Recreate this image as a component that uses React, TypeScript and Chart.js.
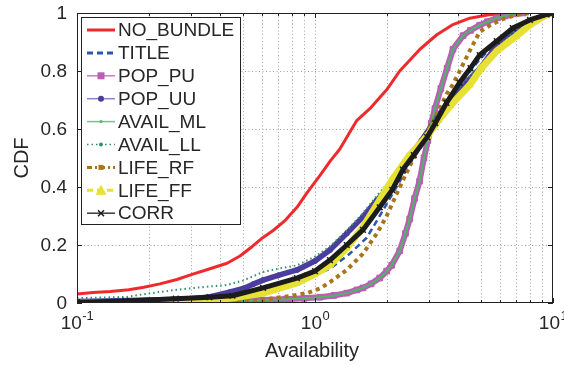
import { useEffect, useRef } from "react";
import { Chart, registerables } from "chart.js";

Chart.register(...registerables);

type Pt = [number, number];

// Empirical CDF curves: [availability, cumulative fraction]
const noBundle: Pt[] = [
  [0.1, 0.031], [0.117, 0.036], [0.138, 0.04], [0.165, 0.046], [0.191, 0.054],
  [0.223, 0.066], [0.263, 0.081], [0.3, 0.097], [0.362, 0.118], [0.427, 0.137],
  [0.484, 0.162], [0.545, 0.195], [0.605, 0.226], [0.667, 0.25], [0.75, 0.285],
  [0.84, 0.33], [0.925, 0.38], [1.05, 0.44], [1.16, 0.49], [1.27, 0.53],
  [1.38, 0.58], [1.5, 0.63], [1.7, 0.67], [2.0, 0.735], [2.27, 0.8],
  [2.76, 0.875], [3.25, 0.925], [3.8, 0.96], [4.47, 0.982], [5.3, 0.993],
  [6.3, 0.998], [7.3, 1.0],
];

const title: Pt[] = [
  [0.1, 0.003], [0.3, 0.008], [0.44, 0.018], [0.605, 0.038], [0.84, 0.072],
  [1.156, 0.118], [1.4, 0.17], [1.65, 0.225], [1.9, 0.31], [2.2, 0.4],
  [2.5, 0.48], [2.96, 0.568], [3.57, 0.68], [4.2, 0.77], [4.92, 0.84],
  [5.8, 0.9], [7.0, 0.95], [8.5, 0.98], [10, 1.0],
];

const popPu: Pt[] = [
  [0.1, 0.0], [0.13, 0.002], [0.18, 0.003], [0.25, 0.004], [0.32, 0.005],
  [0.4, 0.006], [0.5, 0.008], [0.6, 0.01], [0.75, 0.013], [0.9, 0.016],
  [1.05, 0.02], [1.2, 0.026], [1.36, 0.034], [1.5, 0.045], [1.59, 0.052],
  [1.72, 0.066], [1.87, 0.086], [2.0, 0.11], [2.1, 0.13], [2.27, 0.18],
  [2.4, 0.24], [2.5, 0.29], [2.62, 0.36], [2.75, 0.42], [2.87, 0.5],
  [2.98, 0.56], [3.08, 0.62], [3.19, 0.67], [3.38, 0.74], [3.59, 0.81],
  [3.8, 0.875], [4.19, 0.922], [4.5, 0.94], [4.92, 0.958], [5.3, 0.97],
  [5.8, 0.983], [6.3, 0.99], [6.8, 0.997], [7.5, 1.0],
];

const popUu: Pt[] = [
  [0.1, 0.005], [0.15, 0.008], [0.2, 0.01], [0.25, 0.012], [0.3, 0.015],
  [0.36, 0.021], [0.44, 0.038], [0.5, 0.05], [0.55, 0.065], [0.605, 0.079],
  [0.7, 0.095], [0.84, 0.114], [1.0, 0.145], [1.156, 0.183], [1.36, 0.24],
  [1.59, 0.297], [1.82, 0.355], [2.11, 0.41], [2.48, 0.5], [2.8, 0.56],
  [3.2, 0.63], [3.6, 0.69], [4.2, 0.75], [4.95, 0.81], [5.6, 0.87],
  [6.2, 0.915], [7.2, 0.95], [8.5, 0.98], [10, 1.0],
];

const availMl: Pt[] = [
  [0.1, 0.001], [0.13, 0.002], [0.18, 0.003], [0.25, 0.004], [0.32, 0.005],
  [0.4, 0.006], [0.5, 0.008], [0.6, 0.01], [0.75, 0.013], [0.9, 0.016],
  [1.05, 0.02], [1.2, 0.026], [1.36, 0.034], [1.5, 0.045], [1.59, 0.052],
  [1.72, 0.066], [1.87, 0.086], [2.0, 0.11], [2.1, 0.13], [2.27, 0.18],
  [2.4, 0.24], [2.5, 0.29], [2.62, 0.36], [2.75, 0.42], [2.87, 0.5],
  [2.98, 0.56], [3.08, 0.62], [3.19, 0.67], [3.38, 0.74], [3.59, 0.81],
  [3.8, 0.875], [4.19, 0.922], [4.5, 0.94], [4.92, 0.958], [5.3, 0.97],
  [5.8, 0.983], [6.3, 0.99], [6.8, 0.997], [7.5, 1.0],
];

const availLl: Pt[] = [
  [0.1, 0.017], [0.13, 0.019], [0.162, 0.021], [0.19, 0.03], [0.223, 0.038],
  [0.26, 0.045], [0.31, 0.052], [0.36, 0.057], [0.427, 0.062], [0.5, 0.078],
  [0.605, 0.107], [0.7, 0.118], [0.84, 0.13], [1.0, 0.16], [1.156, 0.195],
  [1.36, 0.25], [1.59, 0.31], [1.82, 0.37], [2.11, 0.43], [2.48, 0.51],
  [2.8, 0.565], [3.2, 0.64], [3.6, 0.7], [4.2, 0.76], [4.95, 0.82],
  [5.8, 0.88], [7.0, 0.94], [8.5, 0.975], [10, 1.0],
];

const lifeRf: Pt[] = [
  [0.1, 0.0], [0.3, 0.001], [0.5, 0.005], [0.6, 0.01], [0.67, 0.017],
  [0.8, 0.025], [0.925, 0.034], [1.05, 0.05], [1.156, 0.072], [1.36, 0.114],
  [1.59, 0.17], [1.82, 0.24], [2.0, 0.3], [2.3, 0.41], [2.6, 0.5],
  [2.96, 0.59], [3.3, 0.66], [3.57, 0.72], [3.77, 0.75], [4.0, 0.79],
  [4.47, 0.87], [4.92, 0.935], [5.5, 0.96], [6.2, 0.98], [7.0, 0.993],
  [8.0, 1.0],
];

const lifeFf: Pt[] = [
  [0.1, 0.0], [0.2, 0.002], [0.3, 0.006], [0.44, 0.016], [0.605, 0.034],
  [0.84, 0.069], [1.0, 0.1], [1.156, 0.131], [1.36, 0.19], [1.59, 0.262],
  [1.87, 0.355], [2.11, 0.425], [2.5, 0.51], [2.96, 0.575], [3.3, 0.63],
  [3.7, 0.68], [4.47, 0.752], [5.0, 0.81], [5.8, 0.869], [7.0, 0.92],
  [8.0, 0.959], [9.4, 0.995], [10, 1.0],
];

const corr: Pt[] = [
  [0.1, 0.003], [0.16, 0.007], [0.26, 0.015], [0.36, 0.02], [0.45, 0.025],
  [0.605, 0.052], [0.84, 0.086], [1.0, 0.11], [1.156, 0.148], [1.36, 0.2],
  [1.59, 0.252], [1.87, 0.33], [2.11, 0.39], [2.34, 0.46], [2.6, 0.51],
  [2.96, 0.572], [3.2, 0.62], [3.57, 0.69], [4.05, 0.76], [4.5, 0.81],
  [4.92, 0.855], [5.8, 0.903], [6.77, 0.948], [8.0, 0.976], [9.4, 0.995],
  [10, 1.0],
];

const seriesNames = [
  "NO_BUNDLE", "TITLE", "POP_PU", "POP_UU", "AVAIL_ML",
  "AVAIL_LL", "LIFE_RF", "LIFE_FF", "CORR",
];
const seriesData: Pt[][] = [
  noBundle, title, popPu, popUu, availMl, availLl, lifeRf, lifeFf, corr,
];

// Axis ticks
const xMajorTicks = [0.1, 1, 10];
const xMajorExponents = ["-1", "0", "1"];
const xMinorTicks = [0.2, 0.3, 0.4, 0.5, 0.6, 0.7, 0.8, 0.9, 2, 3, 4, 5, 6, 7, 8, 9];
const yTicks = [0, 0.2, 0.4, 0.6, 0.8, 1];
const yTickLabels = ["0", "0.2", "0.4", "0.6", "0.8", "1"];
const xAxisTitle = "Availability";
const yAxisTitle = "CDF";

type Marker = "none" | "rect" | "dot" | "triangle" | "cross";

interface Look {
  color: string;
  width: number;
  dash: number[];
  pointStyle: string | false;
  radius: number;
  pointWidth: number;
  legendWidth: number;
  legendDash: number[];
  legendColor: string;
  marker: Marker;
  markerSize: number;
}

const looks: Look[] = [
  { color: "#ee2a2c", width: 3, dash: [], pointStyle: false, radius: 0, pointWidth: 0,
    legendWidth: 3, legendDash: [], legendColor: "#ee2a2c", marker: "none", markerSize: 0 },
  { color: "#2b55b0", width: 2.5, dash: [6, 4], pointStyle: false, radius: 0, pointWidth: 0,
    legendWidth: 3, legendDash: [6, 4], legendColor: "#2b55b0", marker: "none", markerSize: 0 },
  { color: "#bd5cb5", width: 6, dash: [], pointStyle: "rect", radius: 4, pointWidth: 1,
    legendWidth: 1.5, legendDash: [], legendColor: "#c77ec0", marker: "rect", markerSize: 7 },
  { color: "#4a3d9e", width: 5.5, dash: [], pointStyle: "circle", radius: 2.5, pointWidth: 1,
    legendWidth: 1.5, legendDash: [], legendColor: "#8b84c2", marker: "dot", markerSize: 3 },
  { color: "#4fb56a", width: 2, dash: [], pointStyle: "circle", radius: 1, pointWidth: 1,
    legendWidth: 1.5, legendDash: [], legendColor: "#74c48a", marker: "dot", markerSize: 1.5 },
  { color: "#2f8f6e", width: 2, dash: [1.5, 3], pointStyle: false, radius: 0, pointWidth: 0,
    legendWidth: 1.5, legendDash: [1.5, 3], legendColor: "#2f8f6e", marker: "dot", markerSize: 2 },
  { color: "#a8741c", width: 4, dash: [4, 4], pointStyle: false, radius: 0, pointWidth: 0,
    legendWidth: 3, legendDash: [5, 3, 2, 3], legendColor: "#a8741c", marker: "rect", markerSize: 5 },
  { color: "#e6e132", width: 7, dash: [], pointStyle: "triangle", radius: 4, pointWidth: 1,
    legendWidth: 3, legendDash: [6, 4], legendColor: "#e6e132", marker: "triangle", markerSize: 9 },
  { color: "#1c1c1c", width: 5, dash: [], pointStyle: "crossRot", radius: 4, pointWidth: 1.5,
    legendWidth: 1.5, legendDash: [], legendColor: "#3a3a3a", marker: "cross", markerSize: 3 },
];

const TEXT = "#262626";
const FONT = '"Liberation Sans", Arial, sans-serif';

function drawMarker(ctx: CanvasRenderingContext2D, m: Marker, x: number, y: number, s: number, color: string) {
  ctx.save();
  ctx.setLineDash([]);
  ctx.fillStyle = color;
  ctx.strokeStyle = color;
  if (m === "rect") {
    ctx.fillRect(x - s / 2, y - s / 2, s, s);
  } else if (m === "dot") {
    ctx.beginPath();
    ctx.arc(x, y, s, 0, Math.PI * 2);
    ctx.fill();
  } else if (m === "triangle") {
    ctx.beginPath();
    ctx.moveTo(x, y - s / 2 - 1);
    ctx.lineTo(x + s / 2 + 1, y + s / 2);
    ctx.lineTo(x - s / 2 - 1, y + s / 2);
    ctx.closePath();
    ctx.fill();
  } else if (m === "cross") {
    ctx.lineWidth = 1.5;
    ctx.beginPath();
    ctx.moveTo(x - s, y - s);
    ctx.lineTo(x + s, y + s);
    ctx.moveTo(x + s, y - s);
    ctx.lineTo(x - s, y + s);
    ctx.stroke();
  }
  ctx.restore();
}

const axesPlugin = {
  id: "matlabAxes",
  beforeDatasetsDraw(chart: any) {
    const { ctx, chartArea: a, scales } = chart;
    const xs = scales.x;
    const ys = scales.y;
    ctx.save();
    ctx.strokeStyle = "#a3a3a3";
    ctx.lineWidth = 1;
    ctx.setLineDash([1, 2.5]);
    [...xMinorTicks, 1].forEach((v) => {
      const px = Math.round(xs.getPixelForValue(v)) + 0.5;
      ctx.beginPath();
      ctx.moveTo(px, a.top);
      ctx.lineTo(px, a.bottom);
      ctx.stroke();
    });
    yTicks.slice(1, -1).forEach((v) => {
      const py = Math.round(ys.getPixelForValue(v)) + 0.5;
      ctx.beginPath();
      ctx.moveTo(a.left, py);
      ctx.lineTo(a.right, py);
      ctx.stroke();
    });
    ctx.restore();
  },
  afterDatasetsDraw(chart: any) {
    const { ctx, chartArea: a, scales } = chart;
    const xs = scales.x;
    const ys = scales.y;
    ctx.save();
    ctx.setLineDash([]);
    ctx.strokeStyle = "#222";
    ctx.lineWidth = 1;
    ctx.strokeRect(a.left + 0.5, a.top + 0.5, a.right - a.left - 1, a.bottom - a.top - 1);

    // inward tick marks on all sides
    const tick = (px: number, len: number) => {
      ctx.beginPath();
      ctx.moveTo(px, a.bottom);
      ctx.lineTo(px, a.bottom - len);
      ctx.moveTo(px, a.top);
      ctx.lineTo(px, a.top + len);
      ctx.stroke();
    };
    xMinorTicks.forEach((v) => tick(Math.round(xs.getPixelForValue(v)) + 0.5, 3));
    xMajorTicks.forEach((v) => tick(Math.round(xs.getPixelForValue(v)) + 0.5, 5));
    yTicks.forEach((v) => {
      const py = Math.round(ys.getPixelForValue(v)) + 0.5;
      ctx.beginPath();
      ctx.moveTo(a.left, py);
      ctx.lineTo(a.left + 5, py);
      ctx.moveTo(a.right, py);
      ctx.lineTo(a.right - 5, py);
      ctx.stroke();
    });

    // tick labels
    ctx.fillStyle = TEXT;
    ctx.font = `19px ${FONT}`;
    ctx.textAlign = "right";
    ctx.textBaseline = "middle";
    yTicks.forEach((v, i) => {
      ctx.fillText(yTickLabels[i], a.left - 10, ys.getPixelForValue(v) + 1);
    });
    ctx.textAlign = "left";
    ctx.textBaseline = "alphabetic";
    xMajorTicks.forEach((v, i) => {
      ctx.font = `19px ${FONT}`;
      const wb = ctx.measureText("10").width;
      ctx.font = `13px ${FONT}`;
      const we = ctx.measureText(xMajorExponents[i]).width;
      const x0 = xs.getPixelForValue(v) - (wb + we) / 2;
      ctx.font = `19px ${FONT}`;
      ctx.fillText("10", x0, a.bottom + 26);
      ctx.font = `13px ${FONT}`;
      ctx.fillText(xMajorExponents[i], x0 + wb + 0.5, a.bottom + 17);
    });

    // axis titles
    ctx.font = `20px ${FONT}`;
    ctx.textAlign = "center";
    ctx.fillText(xAxisTitle, (a.left + a.right) / 2 - 3, a.bottom + 54);
    ctx.save();
    ctx.translate(28, (a.top + a.bottom) / 2);
    ctx.rotate(-Math.PI / 2);
    ctx.textBaseline = "alphabetic";
    ctx.fillText(yAxisTitle, 0, 0);
    ctx.restore();

    // legend box
    const bx = 81.5, by = 17.5, bw = 159, bh = 207;
    ctx.fillStyle = "#fff";
    ctx.fillRect(bx, by, bw, bh);
    ctx.strokeStyle = "#222";
    ctx.lineWidth = 1;
    ctx.strokeRect(bx, by, bw, bh);
    ctx.font = `19px ${FONT}`;
    ctx.textAlign = "left";
    ctx.textBaseline = "middle";
    seriesNames.forEach((name, i) => {
      const lk = looks[i];
      const cy = 30 + i * 22.9;
      ctx.save();
      ctx.strokeStyle = lk.legendColor;
      ctx.lineWidth = lk.legendWidth;
      ctx.setLineDash(lk.legendDash);
      ctx.beginPath();
      ctx.moveTo(87, cy);
      ctx.lineTo(115, cy);
      ctx.stroke();
      ctx.restore();
      drawMarker(ctx, lk.marker, 101, cy, lk.markerSize, lk.color);
      ctx.fillStyle = TEXT;
      ctx.fillText(name, 118, cy + 1);
    });
    ctx.restore();
  },
};

export default function App() {
  const canvasRef = useRef<HTMLCanvasElement>(null);

  useEffect(() => {
    const canvas = canvasRef.current;
    if (!canvas) return;
    const datasets = seriesData.map((pts, i) => {
      const lk = looks[i];
      return {
        label: seriesNames[i],
        data: pts.map(([x, y]) => ({ x, y })),
        borderColor: lk.color,
        backgroundColor: lk.color,
        borderWidth: lk.width,
        borderDash: lk.dash,
        borderCapStyle: "butt" as const,
        borderJoinStyle: "round" as const,
        pointStyle: lk.pointStyle as any,
        pointRadius: lk.radius,
        pointBorderWidth: lk.pointWidth,
        pointBackgroundColor: lk.color,
        pointBorderColor: lk.color,
        tension: 0,
        fill: false,
        order: seriesNames.length - 1 - i,
      };
    });

    const chart = new Chart(canvas, {
      type: "line",
      data: { datasets },
      options: {
        animation: false,
        responsive: false,
        devicePixelRatio: 1,
        events: [],
        layout: { padding: { left: 77, top: 13, right: 11, bottom: 62 } },
        plugins: {
          legend: { display: false },
          tooltip: { enabled: false },
        },
        scales: {
          x: { type: "logarithmic", min: 0.1, max: 10, display: false },
          y: { type: "linear", min: 0, max: 1, display: false },
        },
      },
      plugins: [axesPlugin],
    });
    return () => chart.destroy();
  }, []);

  return (
    <div style={{ position: "absolute", left: 0, top: 0, width: 564, height: 365, background: "#fff" }}>
      <canvas ref={canvasRef} width={564} height={365} style={{ display: "block", width: 564, height: 365 }} />
    </div>
  );
}
